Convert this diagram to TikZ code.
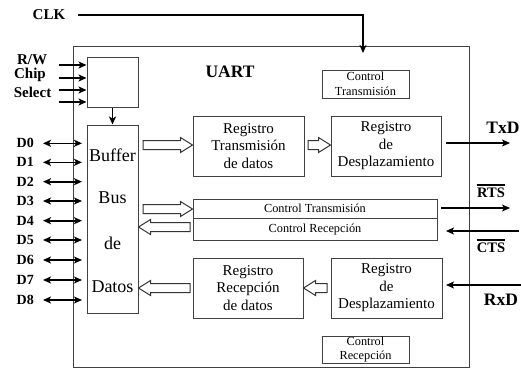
\documentclass[tikz,border=0pt]{standalone}
\usepackage{fontspec}
\setmainfont{Liberation Serif}
\usetikzlibrary{arrows.meta,calc}
\newcommand\hollowarrow[2]{%
  \draw[hollow] let \p1=#1, \p2=#2, \n1={ifthenelse(\x2>\x1,1,-1)} in
    (\x1,\y1+4.5pt) -- ({\x2-(\n1)*12pt},\y1+4.5pt) -- ({\x2-(\n1)*12pt},\y1+7.5pt) -- (\x2,\y1)
    -- ({\x2-(\n1)*12pt},\y1-7.5pt) -- ({\x2-(\n1)*12pt},\y1-4.5pt) -- (\x1,\y1-4.5pt) -- cycle;}
\begin{document}
\begin{tikzpicture}[x=1pt,y=-1pt,
  box/.style={draw=black!75, line width=1pt, inner sep=0pt, align=center},
  conn/.style={line width=1.6pt, -{Stealth[length=8pt,width=7pt,inset=2pt]}},
  dconn/.style={line width=1.6pt, {Stealth[length=8pt,width=7pt,inset=2pt]}-{Stealth[length=8pt,width=7pt,inset=2pt]}},
  hollow/.style={draw=black!80, line width=1pt, fill=white},
  lbl/.style={font=\bfseries\fontsize{15}{17}\selectfont, inner sep=0pt},
  dlbl/.style={font=\bfseries\fontsize{14}{16}\selectfont, inner sep=0pt, anchor=west},
  regtext/.style={font=\fontsize{15}{17.5}\selectfont},
  smalltext/.style={font=\fontsize{12.3}{14.5}\selectfont},
  buftext/.style={font=\fontsize{18}{20}\selectfont, inner sep=0pt},
  ovl/.style={line width=1.2pt}
]
\useasboundingbox (0,0) rectangle (521,369);

% main UART frame
\node[box, minimum width=396, minimum height=320] (uart) at (271,207) {};
\node[font=\bfseries\fontsize{17.5}{20}\selectfont, inner sep=0pt] (uartlbl) at (230,72) {UART};

% boxes
\node[box, smalltext, minimum width=87, minimum height=28] (ctrlT) at (365.5,84) {Control\\Transmisión};
\node[box, minimum width=51, minimum height=50] (sel) at (112.5,82) {};
\node[box, minimum width=51, minimum height=188] (buf) at (112.5,219) {};
\node[box, regtext, minimum width=111, minimum height=60] (regTx) at (248.5,146) {Registro\\Transmisión\\de datos};
\node[box, regtext, minimum width=110, minimum height=60] (despT) at (386,146) {Registro\\de\\Desplazamiento};
\node[box, smalltext, minimum width=244, minimum height=19.5] (ctlT) at (315,208.75) {Control Transmisión};
\node[box, smalltext, minimum width=244, minimum height=21.5] (ctlR) at (315,229.25) {Control Recepción};
\node[box, regtext, minimum width=110, minimum height=60] (regRx) at (248,288) {Registro\\Recepción\\de datos};
\node[box, regtext, minimum width=111, minimum height=60] (despR) at (386.5,288) {Registro\\de\\Desplazamiento};
\node[box, smalltext, minimum width=87, minimum height=27] (ctrlR) at (365.5,349.5) {Control\\Recepción};

% buffer text
\node[buftext] (b1) at (112.5,155) {Buffer};
\node[buftext] (b2) at (112.5,198) {Bus};
\node[buftext] (b3) at (112.5,243) {de};
\node[buftext] (b4) at (112.5,287) {Datos};

% CLK
\node[lbl] (clk) at (49,15) {CLK};
\coordinate (clkA) at (78,15);
\coordinate (clkB) at (363,53);
\draw[conn] (clkA) -| (clkB);

% R/W Chip Select
\node[lbl] (rw) at (32,60) {R/W};
\node[lbl] (chip) at (30,75) {Chip};
\node[lbl] (selct) at (32.5,92) {Select};
\foreach \yy [count=\i] in {65,78,90,102}{
  \coordinate (s\i) at (59,\yy);
  \draw[conn] (s\i) -- (s\i -| sel.west);
}
\draw[conn] (sel.south) -- (buf.north);

% data lines
\foreach \yy [count=\i from 0] in {143.3,162.3,181.7,201,220.7,240,260,280,300}{
  \node[dlbl] (d\i) at (16.5,\yy) {D\i};
  \coordinate (dl\i) at (43,\yy);
  \coordinate (dr\i) at (82,\yy);
  \draw[dconn] (dl\i) -- (dr\i);
}

% hollow arrows
\hollowarrow{(143,145)}{(regTx.west |- 0,145)}
\hollowarrow{(308,145)}{(despT.west |- 0,145)}
\hollowarrow{(143,209)}{(ctlT.west |- 0,209)}
\hollowarrow{(190,227)}{(buf.east |- 0,227)}
\hollowarrow{(190,288)}{(buf.east |- 0,288)}
\hollowarrow{(327,288)}{(regRx.east |- 0,288)}

% right side signals
\node[font=\bfseries\fontsize{17.5}{20}\selectfont, inner sep=0pt] (txd) at (503,128) {TxD};
\coordinate (txA) at (446,143); \coordinate (txB) at (510,143);
\draw[conn] (txA) -- (txB);

\node[lbl, font=\bfseries\fontsize{14.5}{16}\selectfont] (rts) at (491,193) {RTS};
\draw[ovl] ([yshift=3pt]rts.north west) -- ([yshift=3pt]rts.north east);
\coordinate (rtsA) at (441,208); \coordinate (rtsB) at (510,208);
\draw[conn] (rtsA) -- (rtsB);

\node[lbl, font=\bfseries\fontsize{14.5}{16}\selectfont] (cts) at (491,248) {CTS};
\draw[ovl] ([yshift=3pt]cts.north west) -- ([yshift=3pt]cts.north east);
\coordinate (ctsA) at (519,231); \coordinate (ctsB) at (446,231);
\draw[conn] (ctsA) -- (ctsB);

\node[font=\bfseries\fontsize{17.5}{20}\selectfont, inner sep=0pt] (rxd) at (501,300) {RxD};
\coordinate (rxA) at (521,285); \coordinate (rxB) at (446,285);
\draw[conn] (rxA) -- (rxB);
\end{tikzpicture}
\end{document}
